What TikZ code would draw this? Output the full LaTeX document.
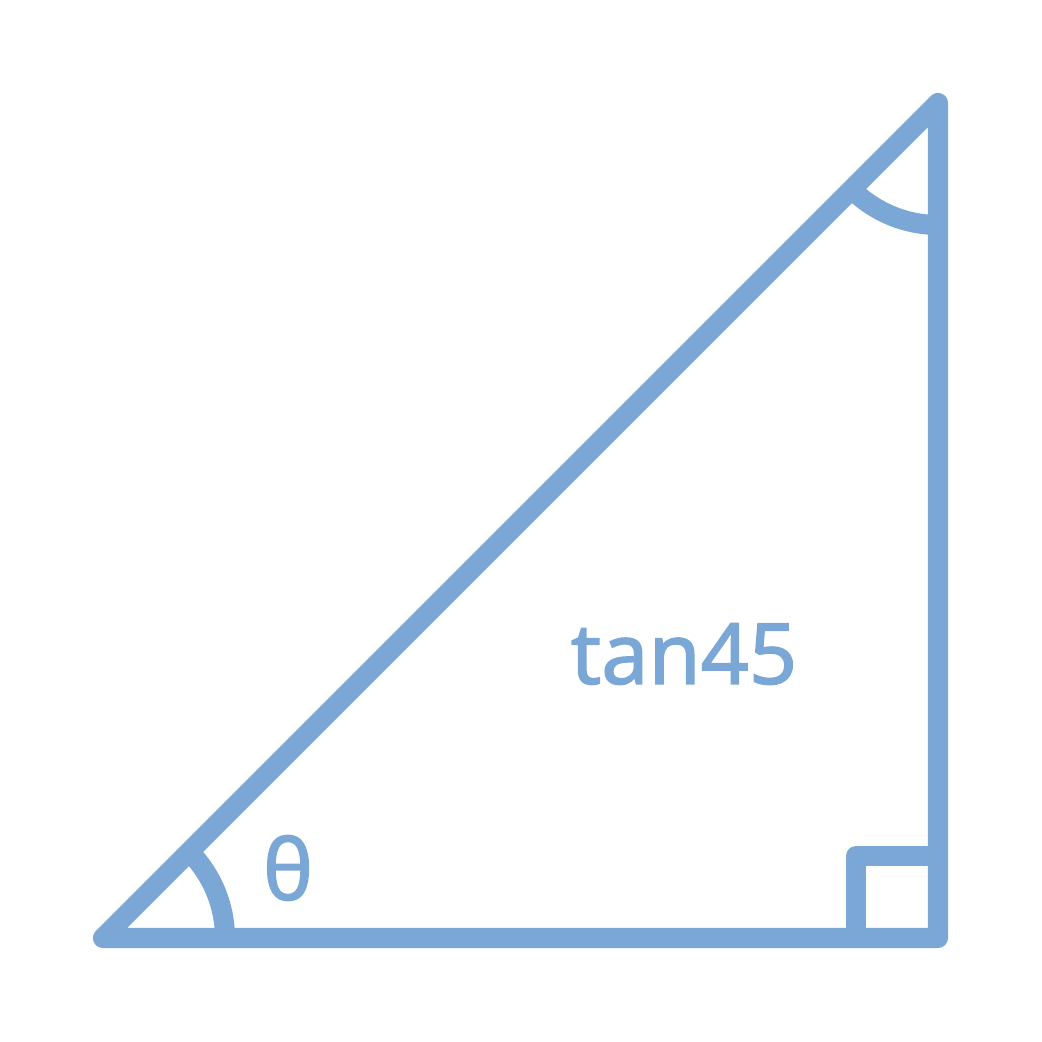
\documentclass[tikz,border=0pt]{standalone}
\usepackage{fontspec}
\setmainfont{Noto Sans}
\newfontfamily\lblfont[FakeBold=1.6]{Noto Sans}
\definecolor{triblue}{RGB}{123,167,215}
\tikzset{
  side/.style={draw=triblue, line width=5.7pt, line join=round, line cap=round},
  lbl/.style={text=triblue, font=\lblfont\fontsize{24}{29}\selectfont, inner sep=0pt}
}
\begin{document}
\begin{tikzpicture}
\useasboundingbox (0,0) rectangle (10.42,10.42);
% Vertices
\coordinate (A) at (1.03,1.04);
\coordinate (B) at (9.38,1.04);
\coordinate (C) at (9.38,9.39);

% Triangle
\draw[side] (A) -- (B) -- (C) -- cycle;

% Angle marks
\draw[side, line cap=butt] ([shift={(0:1.22)}]A) arc (0:45:1.22);
\draw[side, line cap=butt] ([shift={(225:1.22)}]C) arc (225:270:1.22);

% Right angle
\draw[side, line cap=butt] ([xshift=-0.82cm]B) |- ([yshift=0.82cm]B);

% Labels
\node[lbl] (tanlbl) at (6.84,3.88) {tan45};
\node[lbl] (theta) at (2.88,1.74) {θ};
\end{tikzpicture}
\end{document}
